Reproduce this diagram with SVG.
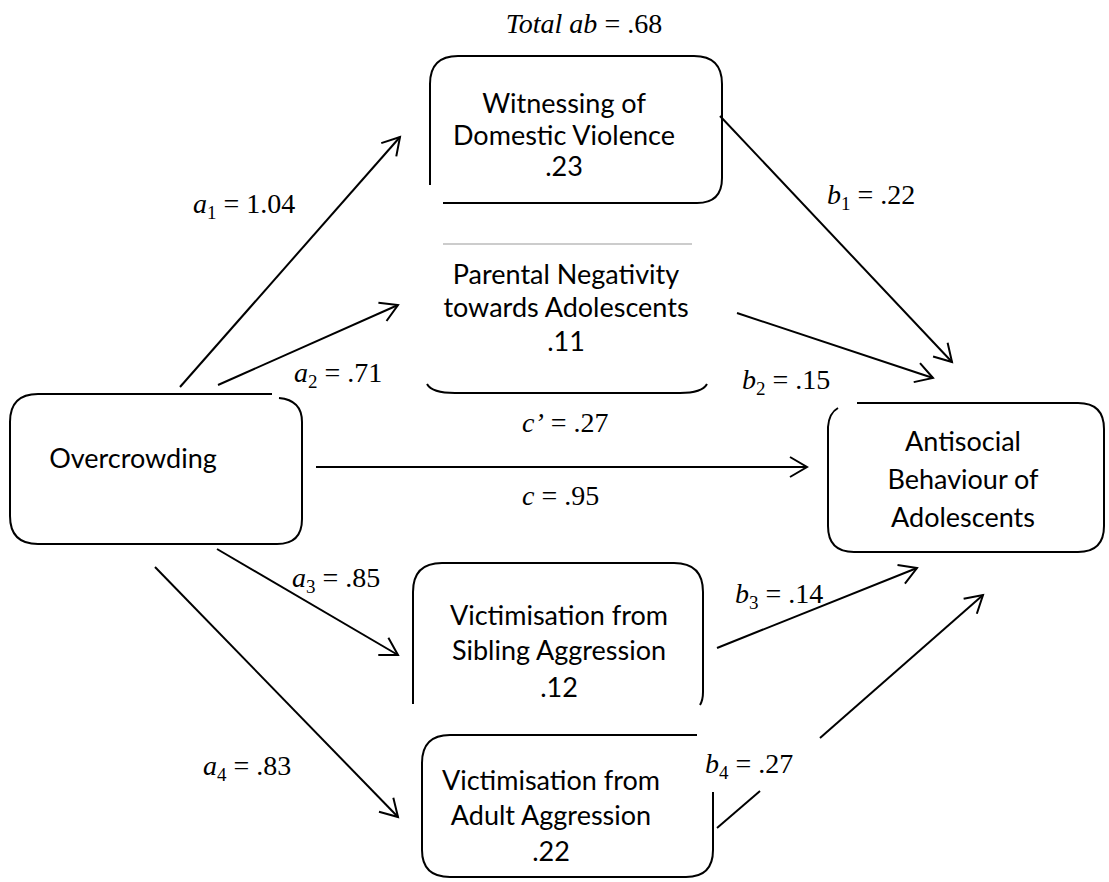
<svg xmlns="http://www.w3.org/2000/svg" width="1109" height="882" viewBox="0 0 1109 882">
<style>
.box{fill:none;stroke:#000;stroke-width:2}
.thin{fill:none;stroke:#999;stroke-width:1.2}
.conn{fill:none;stroke:#000;stroke-width:2}
.nt{font-family:Lato,"Liberation Sans",sans-serif;font-size:27px;fill:#000;text-anchor:middle}
.m{font-family:"Liberation Serif","Times New Roman",serif;font-size:28px;fill:#000}
.it{font-style:italic}
.sub{font-size:19px}
</style>
<defs>
<marker id="arr" markerUnits="userSpaceOnUse" refX="0" refY="0" orient="auto" overflow="visible">
<path d="M-17,-10 L0,0 L-17,10" fill="none" stroke="#000" stroke-width="2"/>
</marker>
</defs>
<rect width="1109" height="882" fill="#fff"/>

<text class="m" x="584" y="33" text-anchor="middle"><tspan class="it">Total ab</tspan> = .68</text>

<g id="witnessing">
<path class="box" d="M430,185 V84 Q430,56 458,56 H694 Q722,56 722,84 V178 Q722,203 697,203 H443"/>
<text class="nt" x="564" y="113">Witnessing of</text>
<text class="nt" x="564" y="145">Domestic Violence</text>
<text class="nt" x="564" y="176">.23</text>
</g>

<g id="parental">
<path class="thin" d="M443,244 H692"/>
<path class="box" d="M427,384 Q432,393 455,393 H680 Q702,393 707,384"/>
<text class="nt" x="566" y="284">Parental Negativity</text>
<text class="nt" x="566" y="317">towards Adolescents</text>
<text class="nt" x="566" y="351">.11</text>
</g>

<g id="overcrowding">
<path class="box" d="M272,394 H38 Q10,394 10,422 V516 Q10,544 38,544 H277 Q302,544 302,519 V422 Q302,400 279,398"/>
<text class="nt" x="133" y="468">Overcrowding</text>
</g>

<g id="antisocial">
<path class="box" d="M857,403 H1078 Q1104,403 1104,429 V526 Q1104,552 1078,552 H854 Q828,552 828,526 V427 Q829,413 838,408"/>
<text class="nt" x="963" y="451">Antisocial</text>
<text class="nt" x="963" y="489">Behaviour of</text>
<text class="nt" x="963" y="527">Adolescents</text>
</g>

<g id="sibling">
<path class="box" d="M413,704 V592 Q413,563 442,563 H674 Q703,563 703,592 V692 Q703,700 700,705"/>
<text class="nt" x="559" y="625">Victimisation from</text>
<text class="nt" x="559" y="660">Sibling Aggression</text>
<text class="nt" x="559" y="697">.12</text>
</g>

<g id="adult">
<path class="box" d="M697,735 H450 Q422,735 422,763 V850 Q422,877 450,877 H686 Q713,877 713,850 V792"/>
<text class="nt" x="551" y="790">Victimisation from</text>
<text class="nt" x="551" y="825">Adult Aggression</text>
<text class="nt" x="551" y="861">.22</text>
</g>

<g id="connectors">
<line class="conn" x1="180" y1="387" x2="400" y2="137" marker-end="url(#arr)"/>
<line class="conn" x1="218" y1="385" x2="398" y2="305" marker-end="url(#arr)"/>
<line class="conn" x1="720" y1="116" x2="952" y2="362" marker-end="url(#arr)"/>
<line class="conn" x1="737" y1="313" x2="933" y2="378" marker-end="url(#arr)"/>
<line class="conn" x1="316" y1="467" x2="807" y2="467" marker-end="url(#arr)"/>
<line class="conn" x1="217" y1="549" x2="398" y2="655" marker-end="url(#arr)"/>
<line class="conn" x1="155" y1="567" x2="398" y2="817" marker-end="url(#arr)"/>
<line class="conn" x1="717" y1="648" x2="917" y2="568" marker-end="url(#arr)"/>
<line class="conn" x1="717" y1="828" x2="760" y2="791"/>
<line class="conn" x1="820" y1="738" x2="983" y2="595" marker-end="url(#arr)"/>
</g>

<g id="labels">
<text class="m" x="193" y="213"><tspan class="it">a</tspan><tspan class="sub" dy="6">1</tspan><tspan dy="-6"> = 1.04</tspan></text>
<text class="m" x="294" y="382"><tspan class="it">a</tspan><tspan class="sub" dy="6">2</tspan><tspan dy="-6"> = .71</tspan></text>
<text class="m" x="827" y="204"><tspan class="it">b</tspan><tspan class="sub" dy="6">1</tspan><tspan dy="-6"> = .22</tspan></text>
<text class="m" x="742" y="389"><tspan class="it">b</tspan><tspan class="sub" dy="6">2</tspan><tspan dy="-6"> = .15</tspan></text>
<text class="m" x="522" y="432"><tspan class="it">c’</tspan> = .27</text>
<text class="m" x="522" y="505"><tspan class="it">c</tspan> = .95</text>
<text class="m" x="292" y="587"><tspan class="it">a</tspan><tspan class="sub" dy="6">3</tspan><tspan dy="-6"> = .85</tspan></text>
<text class="m" x="735" y="603"><tspan class="it">b</tspan><tspan class="sub" dy="6">3</tspan><tspan dy="-6"> = .14</tspan></text>
<text class="m" x="203" y="775"><tspan class="it">a</tspan><tspan class="sub" dy="6">4</tspan><tspan dy="-6"> = .83</tspan></text>
<text class="m" x="705" y="773"><tspan class="it">b</tspan><tspan class="sub" dy="6">4</tspan><tspan dy="-6"> = .27</tspan></text>
</g>
</svg>
